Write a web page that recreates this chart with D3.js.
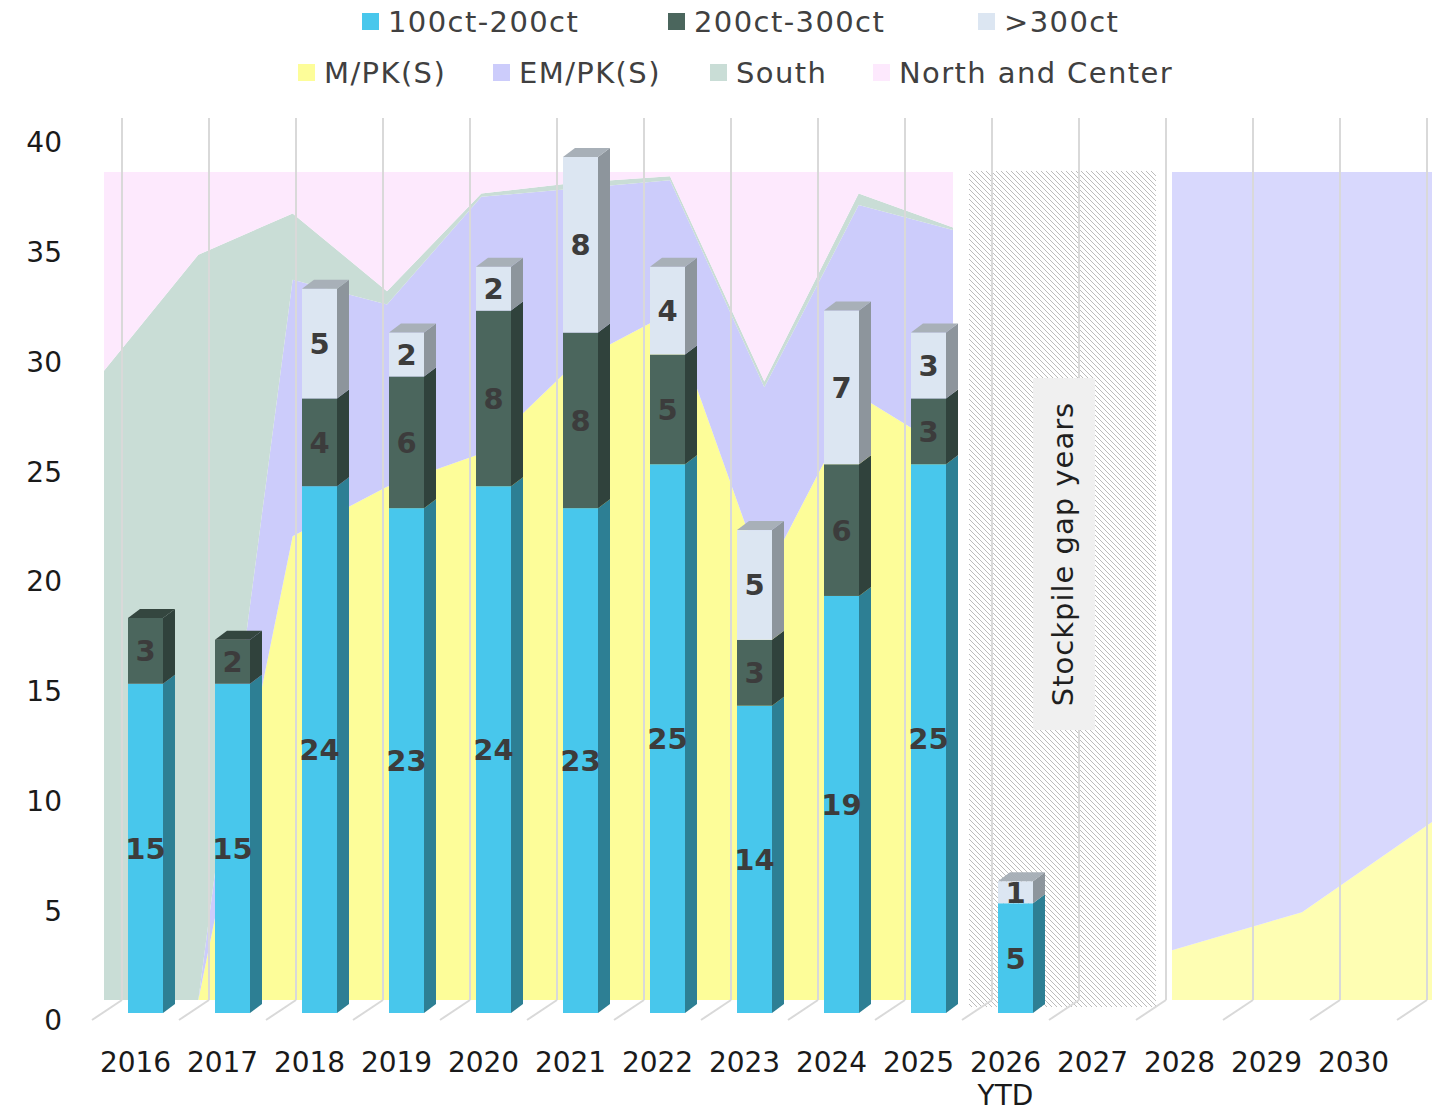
<!DOCTYPE html>
<html>
<head>
<meta charset="utf-8">
<script src="https://cdn.jsdelivr.net/npm/d3@7"></script>
<style>
  body { margin: 0; background: #fff; }
  text { font-family: "DejaVu Sans", sans-serif; }
</style>
</head>
<body>
<script>
// Categories and bar series (carats shipped per size class)
var years = ["2016", "2017", "2018", "2019", "2020", "2021", "2022", "2023", "2024", "2025",
             "2026 YTD", "2027", "2028", "2029", "2030"];
var ct100 = [15, 15, 24, 23, 24, 23, 25, 14, 19, 25, 5, 0, 0, 0, 0];
var ct200 = [3, 2, 4, 6, 8, 8, 5, 3, 6, 3, 0, 0, 0, 0, 0];
var ct300 = [0, 0, 5, 2, 2, 8, 4, 5, 7, 3, 1, 0, 0, 0, 0];

// Background areas: share by origin (percent, stacked to 100)
var areaYears = ["2016", "2017", "2018", "2019", "2020", "2021", "2022", "2023", "2024", "2025"];
var mpk   = [0, 0, 56, 62, 66, 77, 83, 51, 73, 66];
var empk  = [0, 0, 31, 22, 31, 21, 16, 23, 23, 27];
var south = [76, 90, 8, 1.6, 0.4, 0.7, 0.5, 0.7, 1.4, 0.3];
var north = [24, 10, 5, 14.4, 2.6, 1.3, 0.5, 25.3, 2.6, 6.7];

var futureYears = ["2028", "2029", "2030"];
var mpkFuture  = [6, 10.6, 21.5];
var empkFuture = [94, 89.4, 78.5];

var yTicks = [0, 5, 10, 15, 20, 25, 30, 35, 40];

var W = 1432, H = 1113;
var svg = d3.select("body").append("svg")
  .attr("width", W)
  .attr("height", H);

// 3D offsets (depth of the box)
var depthX = 30, depthY = 20;
var barDX = 12, barDY = 9;

var x = d3.scaleBand().domain(years).range([92, 92 + 87 * years.length]).padding(0);
var y = d3.scaleLinear().domain([0, 40]).range([1013, 135]);

var ax = d3.scalePoint().domain(areaYears).range([104, 953]);
var axF = d3.scalePoint().domain(futureYears).range([1172, 1432]);
var ay = d3.scaleLinear().domain([0, 100]).range([1000, 172]);

// ---- background areas
var areaRows = areaYears.map(function(d, i) {
  return { year: d, M: mpk[i], EM: empk[i], South: south[i], NC: north[i] };
});
var areaColors = { M: "#fdfd99", EM: "#ccccfb", South: "#c9ddd6", NC: "#fde9fd" };
var stackA = d3.stack().keys(["M", "EM", "South", "NC"])(areaRows);
var areaGen = d3.area()
  .x(function(d) { return ax(d.data.year); })
  .y0(function(d) { return ay(d[0]); })
  .y1(function(d) { return ay(d[1]); });

svg.append("g").selectAll("path")
    .data(stackA).enter()
  .append("path")
    .attr("d", areaGen)
    .attr("fill", function(d) { return areaColors[d.key]; });

var futureRows = futureYears.map(function(d, i) {
  return { year: d, M: mpkFuture[i], EM: empkFuture[i] };
});
var futureColors = { M: "#fefeb3", EM: "#d8d8fd" };
var stackF = d3.stack().keys(["M", "EM"])(futureRows);
var areaGenF = d3.area()
  .x(function(d) { return axF(d.data.year); })
  .y0(function(d) { return ay(d[0]); })
  .y1(function(d) { return ay(d[1]); });

svg.append("g").selectAll("path")
    .data(stackF).enter()
  .append("path")
    .attr("d", areaGenF)
    .attr("fill", function(d) { return futureColors[d.key]; });

// ---- hatched "gap years" block
var defs = svg.append("defs");
defs.append("pattern")
    .attr("id", "hatch")
    .attr("patternUnits", "userSpaceOnUse")
    .attr("width", 5).attr("height", 5)
  .append("path")
    .attr("d", "M0,0 L5,5 M-1,4 L1,6 M4,-1 L6,1")
    .attr("stroke", "#b4b4b4")
    .attr("stroke-width", 0.9);

var hx0 = x("2026 YTD") + 7, hx1 = x("2028") + 20;
svg.append("rect")
  .attr("x", hx0).attr("y", ay(100) - 1)
  .attr("width", hx1 - hx0).attr("height", 1007 - ay(100) + 1)
  .attr("fill", "#fff");
svg.append("rect")
  .attr("x", hx0).attr("y", ay(100) - 1)
  .attr("width", hx1 - hx0).attr("height", 1007 - ay(100) + 1)
  .attr("fill", "url(#hatch)");

// ---- grid (back wall verticals + floor diagonals)
var gridPos = d3.range(years.length + 1).map(function(i) { return 92 + 87 * i; });
var grid = svg.append("g").attr("stroke", "#d9d9d9").attr("stroke-width", 2);
grid.selectAll("line.v")
    .data(gridPos).enter()
  .append("line")
    .attr("x1", function(d) { return d + depthX; })
    .attr("x2", function(d) { return d + depthX; })
    .attr("y1", 118)
    .attr("y2", 1020 - depthY);
grid.selectAll("line.f")
    .data(gridPos).enter()
  .append("line")
    .attr("x1", function(d) { return d; })
    .attr("y1", 1020)
    .attr("x2", function(d) { return d + depthX; })
    .attr("y2", 1020 - depthY);

// ---- annotation box
var boxCx = x("2027") + 15, boxCy = 554;
svg.append("rect")
  .attr("x", boxCx - 31).attr("y", 378)
  .attr("width", 62).attr("height", 352)
  .attr("fill", "#f0f0f0");
svg.append("text")
  .attr("transform", "translate(" + (boxCx + 9) + "," + boxCy + ") rotate(-90)")
  .attr("text-anchor", "middle")
  .attr("font-size", 29)
  .attr("letter-spacing", 1)
  .attr("fill", "#1f1f1f")
  .text("Stockpile gap years");

// ---- 3D stacked bars
var barRows = years.map(function(d, i) {
  return { year: d, a: ct100[i], b: ct200[i], c: ct300[i] };
});
var keys = ["a", "b", "c"];
var frontColor = { a: "#48c7ec", b: "#4b665d", c: "#dce6f2" };
var sideColor  = { a: "#2d7f94", b: "#30423c", c: "#8d959c" };
var topColor   = { a: "#3a9bb8", b: "#34463f", c: "#a8b0b8" };
var stackB = d3.stack().keys(keys)(barRows);
var barW = 35, barOff = 36;

var segs = [];
stackB.forEach(function(layer) {
  layer.forEach(function(d) {
    if (d[1] - d[0] > 0) segs.push({ key: layer.key, year: d.data.year, y0: d[0], y1: d[1], v: d[1] - d[0] });
  });
});

var bars = svg.append("g");
bars.selectAll("path.side")
    .data(segs).enter()
  .append("path")
    .attr("fill", function(d) { return sideColor[d.key]; })
    .attr("d", function(d) {
      var xr = x(d.year) + barOff + barW;
      return "M" + xr + "," + y(d.y0) + "L" + xr + "," + y(d.y1) +
             "L" + (xr + barDX) + "," + (y(d.y1) - barDY) +
             "L" + (xr + barDX) + "," + (y(d.y0) - barDY) + "Z";
    });
bars.selectAll("rect.front")
    .data(segs).enter()
  .append("rect")
    .attr("x", function(d) { return x(d.year) + barOff; })
    .attr("y", function(d) { return y(d.y1); })
    .attr("width", barW)
    .attr("height", function(d) { return y(d.y0) - y(d.y1); })
    .attr("fill", function(d) { return frontColor[d.key]; });

// top face of the highest segment in each bar
var tops = years.map(function(yr) {
  var s = segs.filter(function(d) { return d.year === yr; });
  return s.length ? s[s.length - 1] : null;
}).filter(function(d) { return d; });
bars.selectAll("path.top")
    .data(tops).enter()
  .append("path")
    .attr("fill", function(d) { return topColor[d.key]; })
    .attr("d", function(d) {
      var xl = x(d.year) + barOff, yt = y(d.y1);
      return "M" + xl + "," + yt + "L" + (xl + barW) + "," + yt +
             "L" + (xl + barW + barDX) + "," + (yt - barDY) +
             "L" + (xl + barDX) + "," + (yt - barDY) + "Z";
    });

// value labels
bars.selectAll("text.lab")
    .data(segs).enter()
  .append("text")
    .attr("x", function(d) { return x(d.year) + barOff + barW / 2; })
    .attr("y", function(d) { return y((d.y0 + d.y1) / 2); })
    .attr("dy", "0.36em")
    .attr("text-anchor", "middle")
    .attr("font-size", 29)
    .attr("font-weight", "bold")
    .attr("fill", "#3c3c3c")
    .text(function(d) { return d.v; });

// ---- axes
var yAxis = svg.append("g")
  .attr("transform", "translate(62,8)")
  .call(d3.axisLeft(y).tickValues(yTicks).tickSize(0).tickPadding(0));
yAxis.select(".domain").remove();
yAxis.selectAll("text")
  .attr("font-family", "DejaVu Sans, sans-serif")
  .attr("font-size", 28)
  .attr("fill", "#1a1a1a");

var xAxis = svg.append("g")
  .attr("transform", "translate(0,1052)")
  .call(d3.axisBottom(x).tickSize(0).tickPadding(0).tickFormat(""));
xAxis.select(".domain").remove();
xAxis.selectAll(".tick").each(function(d) {
  var parts = d.split(" ");
  var t = d3.select(this).append("text")
    .attr("text-anchor", "middle")
    .attr("font-size", 28)
    .attr("fill", "#1a1a1a")
    .attr("y", 20);
  parts.forEach(function(p, i) {
    t.append("tspan").attr("x", 0).attr("dy", i ? 33 : 0).text(p);
  });
});

// ---- legend
var legend1 = [
  { name: "100ct-200ct", color: frontColor.a, x: 362 },
  { name: "200ct-300ct", color: frontColor.b, x: 668 },
  { name: ">300ct", color: frontColor.c, x: 978 }
];
var legend2 = [
  { name: "M/PK(S)", color: areaColors.M, x: 298 },
  { name: "EM/PK(S)", color: areaColors.EM, x: 493 },
  { name: "South", color: areaColors.South, x: 710 },
  { name: "North and Center", color: areaColors.NC, x: 873 }
];
function drawLegend(items, cy) {
  var g = svg.append("g").selectAll("g").data(items).enter().append("g")
    .attr("transform", function(d) { return "translate(" + d.x + "," + cy + ")"; });
  g.append("rect").attr("x", 0).attr("y", -9).attr("width", 17).attr("height", 17)
    .attr("fill", function(d) { return d.color; });
  g.append("text").attr("x", 26).attr("dy", "0.36em")
    .attr("font-size", 29).attr("letter-spacing", 1.4).attr("fill", "#404040")
    .text(function(d) { return d.name; });
}
drawLegend(legend1, 22);
drawLegend(legend2, 73);
</script>
</body>
</html>
